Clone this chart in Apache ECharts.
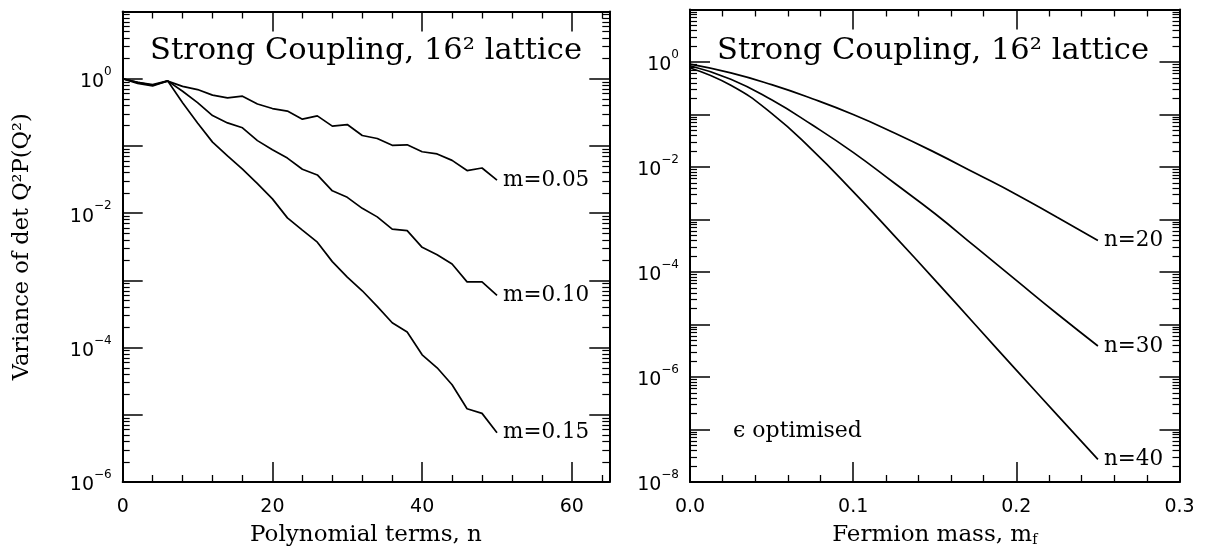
<!DOCTYPE html>
<html>
<head>
<meta charset="utf-8">
<script src="https://cdn.jsdelivr.net/npm/echarts@6/dist/echarts.min.js"></script>
<style>
  html, body { margin: 0; padding: 0; background: #fff; }
  #chart { width: 1205px; height: 552px; }
</style>
</head>
<body>
<div id="chart"></div>
<script>
// left panel: variance vs number of polynomial terms
const nTerms = [0, 2, 4, 6, 8, 10, 12, 14, 16, 18, 20, 22, 24, 26, 28, 30, 32, 34, 36, 38, 40, 42, 44, 46, 48, 50]
const varM005 = [1.0, 0.88, 0.80, 0.92, 0.77, 0.69, 0.57, 0.52, 0.55, 0.42, 0.36, 0.33, 0.25, 0.28, 0.197, 0.208,
  0.143, 0.129, 0.102, 0.104, 0.082, 0.076, 0.061, 0.043, 0.047, 0.031]
const varM010 = [1.0, 0.88, 0.82, 0.93, 0.65, 0.44, 0.283, 0.22, 0.186, 0.12, 0.088, 0.066, 0.045, 0.037, 0.0215,
  0.0172, 0.0118, 0.0088, 0.0058, 0.0055, 0.0031, 0.0024, 0.00175, 0.00095, 0.00095, 0.0006]
const varM015 = [1.0, 0.85, 0.78, 0.93, 0.44, 0.22, 0.114, 0.071, 0.045, 0.0275, 0.0163, 0.0085, 0.0056, 0.0037,
  0.0019, 0.00112, 0.0007, 0.00041, 0.000234, 0.00017, 7.8e-5, 5.0e-5, 2.8e-5, 1.23e-5, 1.05e-5, 5.4e-6]

// right panel: variance vs fermion mass
const massValues = [0, 0.025, 0.05, 0.075, 0.1, 0.125, 0.15, 0.175, 0.2, 0.225, 0.25]
const varN20 = [0.91, 0.62, 0.37, 0.20, 0.10, 0.045, 0.019, 0.0076, 0.0030, 0.0011, 0.00040]
const varN30 = [0.85, 0.47, 0.19, 0.063, 0.019, 0.0050, 0.0013, 0.00030, 6.9e-5, 1.6e-5, 3.9e-6]
const varN40 = [0.77, 0.36, 0.105, 0.021, 0.0034, 5.0e-4, 7.1e-5, 9.8e-6, 1.35e-6, 1.9e-7, 2.7e-8]

const leftXTicks = [0, 20, 40, 60]
const rightXTicks = [0, 0.1, 0.2, 0.3]

const serif = 'DejaVu Serif'
const sans = 'DejaVu Sans'

function pairs(xs, ys) {
  return xs.map(function(x, i) { return [x, ys[i]] })
}

function logLabel(v) {
  const e = Math.round(Math.log10(v))
  if (e % 2 !== 0) return ''
  return '{b|10}{s|' + (e < 0 ? '\u2212' + (-e) : String(e)) + '}'
}

function xAxes(gridIndex, min, max, interval, ticks, digits, name) {
  const base = {
    type: 'value', gridIndex: gridIndex, min: min, max: max, interval: interval,
    axisLine: { show: true, onZero: false, lineStyle: { color: '#000', width: 2 } },
    axisTick: { show: true, inside: true, length: 20, lineStyle: { color: '#000', width: 1.5 } },
    minorTick: { show: true, splitNumber: 5, length: 7, lineStyle: { color: '#000', width: 1.3 } },
    splitLine: { show: false },
    minorSplitLine: { show: false }
  }
  const bottom = Object.assign({}, base, {
    position: 'bottom',
    axisLabel: {
      margin: 16, fontFamily: sans, fontSize: 19, color: '#000',
      formatter: function(v) {
        const hit = ticks.some(function(t) { return Math.abs(t - v) < 1e-9 })
        return hit ? v.toFixed(digits) : ''
      }
    },
    name: name, nameLocation: 'middle', nameGap: 42,
    nameTextStyle: {
      fontFamily: serif, fontSize: 23, color: '#000',
      rich: { sub: { fontFamily: serif, fontSize: 14, color: '#000', verticalAlign: 'bottom', lineHeight: 16, padding: [9, 0, 0, 0] } }
    }
  })
  const top = Object.assign({}, base, { position: 'top', axisLabel: { show: false } })
  return [bottom, top]
}

function yAxes(gridIndex, min, max, splitNumber, name) {
  const base = {
    type: 'log', logBase: 10, gridIndex: gridIndex, min: min, max: max, splitNumber: splitNumber, interval: 1,
    axisLine: { show: true, onZero: false, lineStyle: { color: '#000', width: 2 } },
    axisTick: { show: true, inside: true, length: 20, lineStyle: { color: '#000', width: 1.5 } },
    minorTick: { show: true, splitNumber: 9, length: 7, lineStyle: { color: '#000', width: 1.2 } },
    splitLine: { show: false },
    minorSplitLine: { show: false }
  }
  const left = Object.assign({}, base, {
    position: 'left',
    axisLabel: {
      margin: 11, formatter: logLabel,
      rich: {
        b: { fontFamily: sans, fontSize: 19, color: '#000', lineHeight: 26, verticalAlign: 'bottom' },
        s: { fontFamily: sans, fontSize: 12, color: '#000', lineHeight: 14, verticalAlign: 'top' }
      }
    }
  })
  if (name) {
    Object.assign(left, {
      name: name, nameLocation: 'middle', nameGap: 89,
      nameTextStyle: { fontFamily: serif, fontSize: 22.5, color: '#000' }
    })
  }
  const right = Object.assign({}, base, { position: 'right', axisLabel: { show: false } })
  return [left, right]
}

function curve(name, xi, yi, data, smooth) {
  return {
    name: name, type: 'line', xAxisIndex: xi, yAxisIndex: yi, data: data,
    showSymbol: false, smooth: smooth, silent: true,
    lineStyle: { color: '#000', width: 1.7 },
    endLabel: { show: true, formatter: name, distance: 6, fontFamily: serif, fontSize: 21.5, color: '#000' }
  }
}

const chart = echarts.init(document.getElementById('chart'), null, { renderer: 'canvas' })
const lx = xAxes(0, 0, 65, 20, leftXTicks, 0, 'Polynomial terms, n')
const rx = xAxes(1, 0, 0.3, 0.1, rightXTicks, 1, 'Fermion mass, m{sub|f}')
const ly = yAxes(0, 1e-6, 10, 7, 'Variance of det Q\u00b2P(Q\u00b2)')
const ry = yAxes(1, 1e-8, 10, 9, null)

chart.setOption({
  animation: false,
  backgroundColor: '#fff',
  grid: [
    { left: 122.7, right: 595.7, top: 11.5, bottom: 68 },
    { left: 690, right: 25.5, top: 9.5, bottom: 69.3 }
  ],
  xAxis: [lx[0], lx[1], rx[0], rx[1]],
  yAxis: [ly[0], ly[1], ry[0], ry[1]],
  series: [
    curve('m=0.05', 0, 0, pairs(nTerms, varM005), false),
    curve('m=0.10', 0, 0, pairs(nTerms, varM010), false),
    curve('m=0.15', 0, 0, pairs(nTerms, varM015), false),
    curve('n=20', 2, 2, pairs(massValues, varN20), true),
    curve('n=30', 2, 2, pairs(massValues, varN30), true),
    curve('n=40', 2, 2, pairs(massValues, varN40), true)
  ],
  graphic: [
    { type: 'text', x: 366, y: 51, style: { text: 'Strong Coupling, 16\u00b2 lattice', font: '30.5px "DejaVu Serif"', fill: '#000', textAlign: 'center', textVerticalAlign: 'middle' } },
    { type: 'text', x: 933, y: 51, style: { text: 'Strong Coupling, 16\u00b2 lattice', font: '30.5px "DejaVu Serif"', fill: '#000', textAlign: 'center', textVerticalAlign: 'middle', backgroundColor: '#fff', padding: [2, 4] } },
    { type: 'text', x: 733, y: 431, style: { text: '\u03f5 optimised', font: '22px "DejaVu Serif"', fill: '#000', textAlign: 'left', textVerticalAlign: 'middle' } }
  ]
})
</script>
</body>
</html>
